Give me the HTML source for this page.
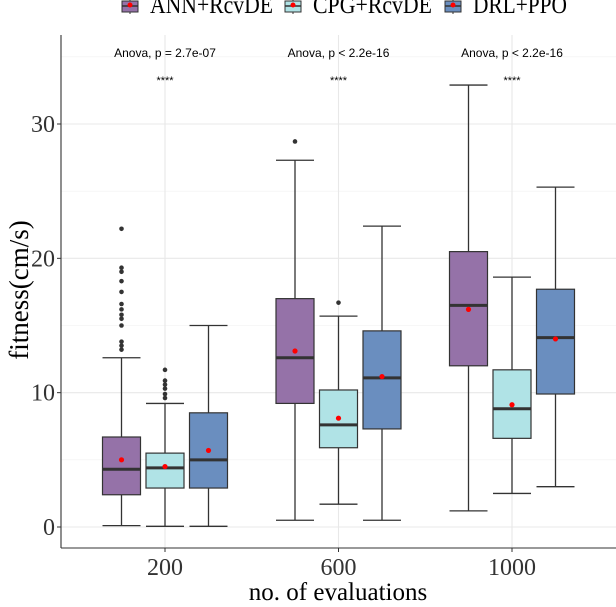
<!DOCTYPE html>
<html><head><meta charset="utf-8"><style>
body{margin:0;background:#fff;}
svg text{font-family:"Liberation Serif",serif;}
</style></head><body>
<svg id="chart" width="616" height="602" xmlns="http://www.w3.org/2000/svg"></svg>
<script>
const categories=["200","600","1000"];
const seriesNames=["ANN+RcvDE","CPG+RcvDE","DRL+PPO"];
const seriesColors=["#9572a8","#b0e3e6","#6a8ebf"];
// per series: [category][lo, q1, med, q3, hi]
const annStats=[[0.1,2.4,4.3,6.7,12.6],[0.5,9.2,12.6,17.0,27.3],[1.2,12.0,16.5,20.5,32.9]];
const cpgStats=[[0.05,2.9,4.4,5.5,9.2],[1.7,5.9,7.6,10.2,15.7],[2.5,6.6,8.8,11.7,18.6]];
const drlStats=[[0.05,2.9,5.0,8.5,15.0],[0.5,7.3,11.1,14.6,22.4],[3.0,9.9,14.1,17.7,25.3]];
const annMeans=[5.0,13.1,16.2];
const cpgMeans=[4.5,8.1,9.1];
const drlMeans=[5.7,11.2,14.0];
const annOutliers=[[13.2,13.5,13.8,15.0,15.5,15.8,16.2,16.6,17.5,18.3,19.0,19.3,22.2],[28.7],[]];
const cpgOutliers=[[9.6,9.9,10.3,10.6,10.9,11.7],[16.7],[]];
const drlOutliers=[[],[],[]];
const yTicks=[0,10,20,30];
const yMinor=[5,15,25,35];
const anovaLabels=["Anova, p = 2.7e-07","Anova, p < 2.2e-16","Anova, p < 2.2e-16"];

const stats=[annStats,cpgStats,drlStats],means=[annMeans,cpgMeans,drlMeans],outs=[annOutliers,cpgOutliers,drlOutliers];
const NS="http://www.w3.org/2000/svg",svg=document.getElementById('chart');
const L=61,R=616,T=35,B=548;
const y=v=>527-v*(403/30);
const x=i=>165+i*173.5;
const off=[-43.5,0,43.5],bw=38;
function mk(t,a,p){const e=document.createElementNS(NS,t);for(const k in a)e.setAttribute(k,a[k]);(p||svg).appendChild(e);return e;}
yMinor.forEach(v=>{const l=mk('line',{x1:L,x2:R,y1:y(v),y2:y(v),stroke:'#f0f0f0','stroke-width':0.6});

});
yTicks.forEach(v=>{const l=mk('line',{x1:L,x2:R,y1:y(v),y2:y(v),stroke:'#e8e8e8','stroke-width':1.1});


const t=mk('text',{x:L-6,y:y(v)+8,'text-anchor':'end','font-size':24,fill:'#333'});t.textContent=v;


mk('line',{x1:L-4,x2:L,y1:y(v),y2:y(v),stroke:'#333'});});
categories.forEach((c,i)=>{const l=mk('line',{x1:x(i),x2:x(i),y1:T,y2:B,stroke:'#e8e8e8','stroke-width':1.1});


const t=mk('text',{x:x(i),y:575,'text-anchor':'middle','font-size':24,fill:'#333'});t.textContent=c;


mk('line',{x1:x(i),x2:x(i),y1:B,y2:B+4,stroke:'#333'});
const a=mk('text',{x:x(i),y:57,'text-anchor':'middle','font-size':12,fill:'#000',style:'font-family:"Liberation Sans",sans-serif'});a.textContent=anovaLabels[i];


const s=mk('text',{x:x(i),y:84,'text-anchor':'middle','font-size':11,fill:'#000',style:'font-family:"Liberation Sans",sans-serif'});s.textContent='****';

});
for(let s=0;s<3;s++)for(let i=0;i<3;i++){
 const d=stats[s][i],cx=x(i)+off[s];
 const g=mk('g',{});
 
 
 mk('line',{x1:cx,x2:cx,y1:y(d[0]),y2:y(d[4]),stroke:'#333','stroke-width':1.3},g);
 mk('line',{x1:cx-bw/2,x2:cx+bw/2,y1:y(d[0]),y2:y(d[0]),stroke:'#333','stroke-width':1.3},g);
 mk('line',{x1:cx-bw/2,x2:cx+bw/2,y1:y(d[4]),y2:y(d[4]),stroke:'#333','stroke-width':1.3},g);
 mk('rect',{x:cx-bw/2,y:y(d[3]),width:bw,height:y(d[1])-y(d[3]),fill:seriesColors[s],stroke:'#333','stroke-width':1.2},g);
 mk('line',{x1:cx-bw/2,x2:cx+bw/2,y1:y(d[2]),y2:y(d[2]),stroke:'#333','stroke-width':3},g);
 outs[s][i].forEach(v=>{const p=mk('circle',{cx:cx,cy:y(v),r:2.3,fill:'#333'},g);
 
 });
 const m=mk('circle',{cx:cx,cy:y(means[s][i]),r:2.6,fill:'#ff0000'},g);
 
 
}
mk('line',{x1:L,x2:L,y1:T,y2:B,stroke:'#333','stroke-width':1.1});
mk('line',{x1:L,x2:R,y1:B,y2:B,stroke:'#333','stroke-width':1.1});
const xt=mk('text',{x:338,y:600,'text-anchor':'middle','font-size':25,fill:'#000'});xt.textContent='no. of evaluations';


const yt=mk('text',{x:0,y:0,'text-anchor':'middle','font-size':27,fill:'#000',transform:'translate(28,290) rotate(-90)'});yt.textContent='fitness(cm/s)';


const lx=[122,285,445],lw=[123,119,94];
seriesNames.forEach((n,s)=>{const g=mk('g',{});


mk('line',{x1:lx[s]+8,x2:lx[s]+8,y1:0,y2:14,stroke:'#333'},g);
mk('rect',{x:lx[s],y:1,width:16,height:11,fill:seriesColors[s],stroke:'#333','stroke-width':1},g);
mk('line',{x1:lx[s],x2:lx[s]+16,y1:6,y2:6,stroke:'#333','stroke-width':1.5},g);
mk('circle',{cx:lx[s]+8,cy:5,r:2.5,fill:'#ff0000'},g);
const t=mk('text',{x:lx[s]+28,y:13,'font-size':25,fill:'#000',textLength:lw[s],lengthAdjust:'spacingAndGlyphs'},g);t.textContent=n;});
</script>
</body></html>
